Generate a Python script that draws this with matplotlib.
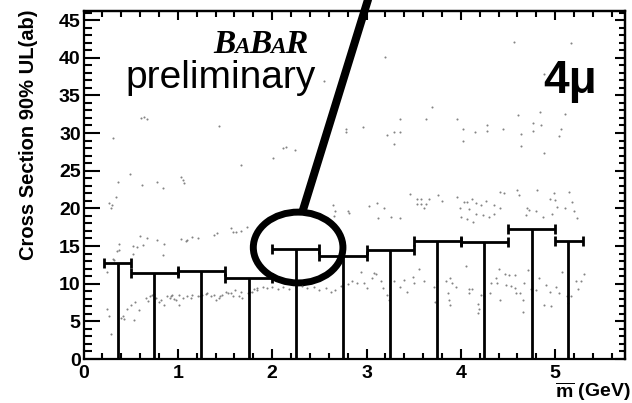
import matplotlib
matplotlib.use("Agg")
import matplotlib.pyplot as plt
from matplotlib.patches import Ellipse
from matplotlib.ticker import MultipleLocator

# ---------------- data ----------------
# 90% UL per mass bin (bars)
bin_center = [0.37, 0.75, 1.25, 1.75, 2.25, 2.75, 3.25, 3.75, 4.25, 4.75, 5.14]
bin_lo = [0.22, 0.50, 1.00, 1.50, 2.00, 2.50, 3.00, 3.50, 4.00, 4.50, 5.00]
bin_hi = [0.50, 1.00, 1.50, 2.00, 2.50, 3.00, 3.50, 4.00, 4.50, 5.00, 5.30]
bin_ul = [12.7, 11.4, 11.7, 10.7, 14.6, 13.7, 14.5, 15.7, 15.5, 17.3, 15.7]

# scan points (lower band)
low_m = [0.25, 0.27, 0.29, 0.46, 0.50, 0.55, 0.59, 0.54, 0.40, 0.43, 0.42,
         0.66, 0.68, 0.71, 0.75, 0.80, 0.82, 0.85, 0.89, 0.92, 0.94, 0.98, 1.01, 1.05,
         0.73, 0.77, 0.93, 0.96, 1.01, 1.14, 1.24, 1.30, 1.40, 1.45, 1.53, 1.58, 1.67, 1.79, 1.84,
         1.10, 1.15, 1.21, 1.26, 1.31, 1.35, 1.38, 1.44, 1.47, 1.51, 1.56, 1.61, 1.65, 1.68,
         1.74, 1.77, 1.81, 1.84, 1.90,
         1.95, 2.00, 2.06, 2.11, 2.18, 2.25, 2.32, 2.37, 2.44, 2.50, 2.57, 2.62, 2.67, 2.73,
         2.80, 2.85, 2.90, 2.97, 3.01, 3.06, 3.10, 3.15, 3.17, 3.22, 3.24, 3.29, 3.35, 3.40,
         3.43, 3.49, 3.50, 3.56, 3.61, 3.72, 3.75, 3.73, 2.94, 3.08,
         3.84, 3.88, 3.91, 3.95, 3.87, 3.89, 3.86, 4.05, 4.09, 4.12, 4.09, 4.18, 4.19, 4.18,
         4.21, 4.25, 4.31, 4.32, 4.37, 4.38, 4.40, 4.42, 4.47, 4.48, 4.51, 4.53, 4.57, 4.57,
         4.58, 4.63, 4.67, 4.66, 4.66, 4.71, 4.74, 4.80, 4.83, 4.88, 4.90, 4.95, 4.96, 5.01,
         5.04, 5.07, 5.13, 5.14, 5.17, 5.22, 5.24, 5.27, 5.31]
low_ul = [6.6, 5.7, 3.3, 6.7, 7.2, 7.6, 6.5, 5.2, 5.5, 5.3, 5.7,
          8.1, 7.7, 8.4, 8.6, 7.6, 7.8, 7.2, 8.3, 8.1, 8.5, 7.8, 7.2, 8.1,
          8.5, 8.1, 8.3, 7.9, 8.5, 8.1, 8.4, 8.6, 7.8, 8.3, 8.7, 8.3, 8.9, 8.9, 9.2,
          8.3, 8.5, 8.4, 8.5, 8.7, 8.3, 8.5, 8.1, 8.5, 8.9, 8.7, 9.2, 8.3, 8.1,
          8.7, 8.9, 9.3, 9.4, 9.5,
          9.4, 9.5, 9.3, 9.6, 9.3, 9.5, 9.7, 9.4, 9.6, 9.2, 9.4, 8.9, 9.2, 9.7,
          10.0, 10.3, 10.1, 10.1, 9.4, 10.7, 11.3, 10.3, 9.4, 8.5, 7.8, 10.3, 9.6, 10.5,
          8.9, 10.9, 10.1, 12.0, 10.3, 9.6, 10.3, 7.6, 11.6, 11.4,
          10.3, 10.7, 10.1, 9.6, 7.8, 7.2, 8.7, 12.4, 9.3, 9.3, 8.8, 7.3, 6.6, 6.1,
          8.5, 8.3, 8.8, 10.1, 10.7, 10.1, 12.0, 7.8, 11.3, 9.8, 11.2, 9.7, 11.2, 9.4,
          8.8, 8.7, 10.1, 7.8, 6.3, 11.8, 9.3, 9.2, 10.8, 7.2, 9.8, 8.9, 7.0, 9.6,
          8.7, 11.5, 8.3, 7.4, 8.4, 10.3, 9.3, 10.3, 11.3]

# scan points (middle band)
mid_m = [0.34, 0.27, 0.29, 0.30, 1.56, 1.73, 1.58, 1.67, 1.62, 1.38, 1.41,
         0.60, 0.78, 0.85, 1.03, 1.10, 1.15, 1.21, 0.38, 0.52, 0.57, 0.63, 0.36, 0.53,
         0.32, 0.84, 0.67, 1.09, 0.25, 0.31, 0.38,
         2.65, 2.67, 2.66, 2.80, 2.81, 3.03, 3.11, 3.19, 3.12, 3.26, 3.35,
         3.46, 3.53, 3.58, 3.66, 3.53, 3.58, 3.63, 3.61, 3.76, 3.80,
         3.96, 4.03, 4.06, 4.12, 4.16, 3.99, 4.09, 4.21, 4.27, 4.35, 4.00, 4.07, 4.13,
         4.16, 4.23, 4.30, 4.35, 4.41, 4.42, 4.46, 4.60, 4.62, 4.70, 4.72, 4.69, 4.80,
         4.81, 4.87, 4.94, 4.99, 5.00, 5.02, 4.97, 5.10, 5.15, 5.18, 5.20, 5.23]
mid_ul = [21.5, 20.7, 20.1, 20.5, 17.4, 17.5, 16.9, 17.0, 16.9, 16.5, 16.7,
          16.3, 15.8, 15.3, 15.9, 15.8, 16.2, 16.0, 15.3, 15.0, 14.9, 15.1, 14.3, 14.0,
          13.2, 13.8, 16.0, 15.6, 11.6, 13.3, 14.5,
          20.5, 19.7, 19.0, 19.7, 19.4, 20.3, 20.7, 20.1, 18.7, 18.8, 18.7,
          21.9, 21.3, 21.3, 21.3, 20.6, 20.6, 20.6, 20.0, 21.8, 21.0,
          21.5, 20.9, 20.8, 21.3, 20.7, 20.0, 19.9, 20.5, 21.0, 20.5, 18.8, 18.6, 18.2,
          19.3, 19.1, 18.9, 19.3, 20.0, 22.2, 22.0, 22.5, 21.8, 20.0, 19.8, 19.1, 19.7,
          22.4, 18.8, 21.3, 22.1, 21.1, 20.2, 19.3, 20.1, 22.2, 20.9, 19.7, 18.7]

# scan points (upper band)
high_m = [0.61, 0.67, 0.64, 1.44, 0.31, 1.67, 0.49, 0.37, 0.62, 0.78, 0.84, 1.03, 1.06, 1.07,
          2.12, 2.15, 2.24, 2.01,
          2.78, 2.78, 2.96, 3.22, 3.29, 3.36, 3.29, 3.36, 3.63, 3.69,
          3.96, 4.02, 4.02, 4.15, 4.28, 4.28, 4.45, 4.61, 4.64, 4.64, 4.76, 4.77, 4.84, 4.85,
          4.88, 5.10, 5.06, 5.04,
          3.20, 4.56, 5.17, 4.88, 2.55]
high_ul = [32.0, 31.8, 32.1, 30.9, 29.4, 25.7, 24.5, 23.5, 23.1, 23.5, 22.7, 24.1, 23.8, 23.4,
           28.0, 28.1, 27.7, 26.7,
           30.5, 30.1, 30.8, 29.7, 30.1, 30.1, 28.6, 31.8, 31.9, 33.4,
           31.8, 30.6, 28.9, 30.2, 31.1, 30.3, 30.5, 32.4, 29.9, 28.3, 31.3, 30.3, 32.8, 31.1,
           27.3, 32.5, 30.5, 29.6,
           40.1, 42.1, 41.9, 37.9, 36.9]

# highlighted bin (circle annotation)
circle_center = (2.275, 14.8)
circle_size = (0.95, 9.4)
pointer_start = (2.317, 19.4)
pointer_end = (3.06, 49.5)

# ---------------- style ----------------
plt.rcParams['font.family'] = ['Liberation Sans', 'DejaVu Sans']
plt.rcParams['font.weight'] = 'bold'
plt.rcParams['mathtext.fontset'] = 'custom'
plt.rcParams['mathtext.rm'] = 'Liberation Sans:bold'
plt.rcParams['mathtext.bf'] = 'Liberation Sans:bold'

W, H = 632, 403
fig = plt.figure(figsize=(W / 100, H / 100), dpi=100)
ax = fig.add_axes([83.5 / W, 44 / H, (625 - 83.5) / W, (359 - 11) / H])
ax.set_xlim(0, 5.74)
ax.set_ylim(0, 46.2)

for sp in ax.spines.values():
    sp.set_linewidth(1.6)

ax.xaxis.set_major_locator(MultipleLocator(1))
ax.xaxis.set_minor_locator(MultipleLocator(0.2))
ax.yaxis.set_major_locator(MultipleLocator(5))
ax.yaxis.set_minor_locator(MultipleLocator(1))
ax.tick_params(axis='x', which='major', direction='in', length=7.2, width=1.5,
               labelsize=14, pad=4)
ax.tick_params(axis='x', which='minor', direction='in', length=4.0, width=1.5)
ax.tick_params(axis='y', which='major', direction='in', length=11.5, width=1.5,
               labelsize=14, pad=2)
ax.tick_params(axis='y', which='minor', direction='in', length=6.1, width=1.5)

top = ax.secondary_xaxis('top')
top.xaxis.set_major_locator(MultipleLocator(1))
top.xaxis.set_minor_locator(MultipleLocator(0.2))
top.tick_params(which='major', direction='in', length=6.5, width=1.5, labeltop=False)
top.tick_params(which='minor', direction='in', length=4.3, width=1.5)
right = ax.secondary_yaxis('right')
right.yaxis.set_major_locator(MultipleLocator(5))
right.yaxis.set_minor_locator(MultipleLocator(1))
right.tick_params(which='major', direction='in', length=7.2, width=1.5, labelright=False)
right.tick_params(which='minor', direction='in', length=4.3, width=1.5)
for sec in (top, right):
    for sp in sec.spines.values():
        sp.set_linewidth(1.6)

# scan points
dot_kw = dict(linestyle='none', marker='o', markersize=1.5, color='#666666',
              markeredgewidth=0, alpha=0.8)
ax.plot(low_m, low_ul, **dot_kw)
ax.plot(mid_m, mid_ul, **dot_kw)
ax.plot(high_m, high_ul, **dot_kw)

# bars
xerr = [[c - lo for c, lo in zip(bin_center, bin_lo)],
        [hi - c for c, hi in zip(bin_center, bin_hi)]]
ax.errorbar(bin_center, bin_ul, xerr=xerr, fmt='none', ecolor='black',
            elinewidth=2.0, capsize=3.5, capthick=2.0)
ax.vlines(bin_center, 0, bin_ul, colors='black', linewidth=2.0)

# annotation circle and pointer
ax.add_patch(Ellipse(circle_center, circle_size[0], circle_size[1], fill=False,
                     edgecolor='black', linewidth=5.0, clip_on=False))
ax.plot([pointer_start[0], pointer_end[0]], [pointer_start[1], pointer_end[1]],
        color='black', linewidth=5.8, solid_capstyle='butt', clip_on=False)

# texts
fig.text(29 / W, 1 - 9 / H, 'Cross Section 90% UL(ab)', rotation=90,
         ha='center', va='top', fontsize=14.5, fontweight='bold')
fig.text(631 / W, 1 - 397 / H, r'$\overline{\mathrm{m}}$ (GeV)', ha='right',
         va='baseline', fontsize=14, fontweight='bold')
fig.text(125 / W, 1 - 88 / H, 'preliminary', ha='left', va='baseline',
         fontsize=28, fontweight='normal', family='Liberation Sans')
fig.text(543 / W, 1 - 93 / H, '4μ', ha='left', va='baseline',
         fontsize=33, fontweight='bold', family='Liberation Sans')

fig.canvas.draw()
r = fig.canvas.get_renderer()
x0 = 213
for s, fs in [('B', 24), ('A', 17), ('B', 24), ('A', 17), ('R', 24)]:
    t = fig.text(x0 / W, 1 - 53 / H, s, ha='left', va='baseline', fontsize=fs,
                 family='Liberation Serif', fontweight='bold', style='italic')
    bb = t.get_window_extent(r)
    x0 = bb.x1 - 1

fig.savefig('out.png', dpi=100)
